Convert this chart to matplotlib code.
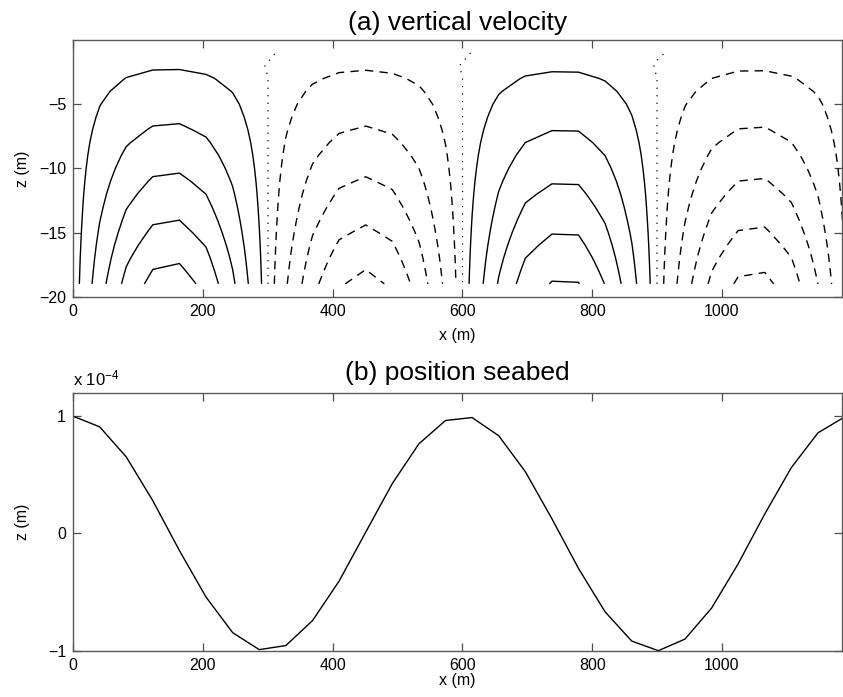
import numpy as np
import matplotlib.pyplot as plt

plt.rcParams['font.family'] = ['Liberation Sans', 'DejaVu Sans']
plt.rcParams['mathtext.fontset'] = 'custom'
plt.rcParams['mathtext.rm'] = 'Liberation Sans'
plt.rcParams['mathtext.default'] = 'regular'

# model grid: x every 41 m, z every 1 m from -19 to -1
x_nodes = np.arange(30) * 41
z_nodes = np.arange(-19, 0)

# vertical velocity field:
# horizontal shape at each x node, amplitude at each depth,
# and a small correction near the surface (bends the zero line)
w_shape = [0.0, 0.421, 0.765, 0.971, 1.0, 0.849, 0.539, 0.137,
           -0.282, -0.648, -0.886, -0.970, -0.878, -0.626, -0.261,
           0.147, 0.520, 0.799, 0.917, 0.912, 0.699, 0.374,
           -0.020, -0.422, -0.747, -0.937, -0.957, -0.802, -0.503, -0.111]
w_amp = [4.97, 4.67, 4.38, 4.08, 3.78, 3.49, 3.21, 2.94, 2.67, 2.40,
         2.14, 1.88, 1.62, 1.37, 1.14, 0.90, 0.67, 0.43, 0.20]
w_surf = [0, 0, 0, 0, 0, 0, 0, 0, 0, 0,
          0, 0, 0, 0, 0, 0, 0, 0.02, -0.025]
pos_levels = [0.5, 1.5, 2.5, 3.5, 4.5]
neg_levels = [-4.5, -3.5, -2.5, -1.5, -0.5]

# seabed position (units of 1e-4 m) at the x nodes
seabed = [1.000, 0.909, 0.653, 0.279, -0.146, -0.543, -0.846, -0.991, -0.956, -0.744,
          -0.407, 0.010, 0.425, 0.764, 0.963, 0.988, 0.833, 0.527, 0.125, -0.299,
          -0.669, -0.918, -1.000, -0.901, -0.637, -0.259, 0.166, 0.562, 0.858, 0.993]

# surface correction follows the seabed shape, but not on the left boundary
w_bend = [0.0] + seabed[1:]
W = np.outer(w_amp, w_shape) + np.outer(w_surf, w_bend)

fig = plt.figure(figsize=(8.43, 6.97), dpi=100)
ax1 = fig.add_axes([73/843, 1 - 296.7/697, 769/843, 256.7/697])
ax2 = fig.add_axes([73/843, 1 - 650.7/697, 769/843, 258/697])

ax1.contour(x_nodes, z_nodes, W, levels=pos_levels, colors='k',
            linewidths=1.0, linestyles='solid')
cn = ax1.contour(x_nodes, z_nodes, W, levels=neg_levels, colors='k',
                 linewidths=1.0, linestyles='dashed')
cn.set_linestyle((0, (6, 4.5)))
cz = ax1.contour(x_nodes, z_nodes, W, levels=[0], colors='k',
                 linewidths=0.9, linestyles='dotted')
cz.set_linestyle((0, (1, 5)))

ax2.plot(x_nodes, seabed, color='k', lw=1.0)

for ax in (ax1, ax2):
    ax.set_xlim(0, 1185)
    ax.set_xticks([0, 200, 400, 600, 800, 1000])
    ax.tick_params(direction='in', top=True, right=True, length=6,
                   width=0.9, color='0.3', labelsize=11.5, pad=5)
    for s in ax.spines.values():
        s.set_linewidth(1.0)
        s.set_color('0.35')

ax1.set_ylim(-20, 0)
ax1.set_yticks([-20, -15, -10, -5])
ax1.set_title('(a) vertical velocity', fontsize=19, pad=7)
ax1.set_xlabel('x (m)', fontsize=11.5)
ax1.xaxis.set_label_coords(0.5, -0.122)
ax1.set_ylabel('z (m)', fontsize=11.5)
ax1.yaxis.set_label_coords(-0.056, 0.5)

ax2.set_ylim(-1, 1.2)
ax2.set_yticks([-1, 0, 1])
ax2.set_title('(b) position seabed', fontsize=19, pad=9.5)
ax2.set_xlabel('x (m)', fontsize=11.5)
ax2.xaxis.set_label_coords(0.5, -0.0864)
ax2.set_ylabel('z (m)', fontsize=11.5)
ax2.yaxis.set_label_coords(-0.056, 0.5)
ax2.text(0, 1.03, 'x 10$^{-4}$', transform=ax2.transAxes, fontsize=12,
         ha='left', va='baseline')

fig.savefig('out.png', dpi=100)
